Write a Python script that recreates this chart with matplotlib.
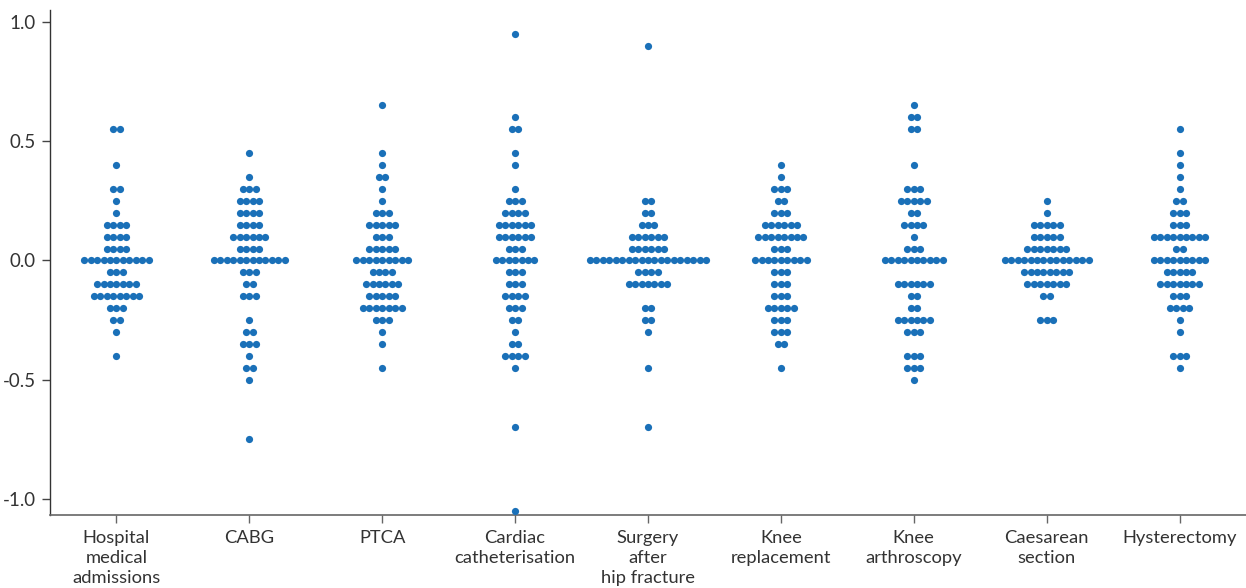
import matplotlib
matplotlib.use("Agg")
import matplotlib.pyplot as plt
from matplotlib.ticker import FuncFormatter, FixedLocator

plt.rcParams["font.family"] = ["Lato", "DejaVu Sans"]
plt.rcParams["axes.unicode_minus"] = False

categories = [
    "Hospital\nmedical\nadmissions",
    "CABG",
    "PTCA",
    "Cardiac\ncatheterisation",
    "Surgery\nafter\nhip fracture",
    "Knee\nreplacement",
    "Knee\narthroscopy",
    "Caesarean\nsection",
    "Hysterectomy",
]

# value -> number of observations at that value
hospital_medical = {0.55: 2, 0.40: 1, 0.30: 2, 0.25: 1, 0.20: 1, 0.15: 4, 0.10: 4,
                    0.05: 4, 0.00: 11, -0.05: 3, -0.10: 7, -0.15: 8, -0.20: 3,
                    -0.25: 2, -0.30: 1, -0.40: 1}
cabg = {0.45: 1, 0.35: 1, 0.30: 3, 0.25: 4, 0.20: 4, 0.15: 4, 0.10: 6, 0.05: 4,
        0.00: 12, -0.05: 3, -0.10: 2, -0.15: 3, -0.25: 1, -0.30: 2, -0.35: 3,
        -0.40: 1, -0.45: 2, -0.50: 1, -0.75: 1}
ptca = {0.65: 1, 0.45: 1, 0.40: 1, 0.35: 2, 0.30: 1, 0.25: 1, 0.20: 3, 0.15: 5,
        0.10: 3, 0.05: 5, 0.00: 9, -0.05: 4, -0.10: 6, -0.15: 5, -0.20: 7,
        -0.25: 3, -0.30: 1, -0.35: 1, -0.45: 1}
cardiac_cath = {0.95: 1, 0.60: 1, 0.55: 2, 0.45: 1, 0.40: 1, 0.30: 1, 0.25: 3,
                0.20: 4, 0.15: 6, 0.10: 6, 0.05: 3, 0.00: 7, -0.05: 3, -0.10: 3,
                -0.15: 4, -0.20: 3, -0.25: 2, -0.30: 1, -0.35: 2, -0.40: 4,
                -0.45: 1, -0.70: 1, -1.05: 1}
hip_fracture = {0.90: 1, 0.25: 2, 0.20: 2, 0.15: 3, 0.10: 6, 0.05: 6, 0.00: 19,
                -0.05: 4, -0.10: 7, -0.20: 2, -0.25: 2, -0.30: 1, -0.45: 1,
                -0.70: 1}
knee_replacement = {0.40: 1, 0.35: 1, 0.30: 3, 0.25: 2, 0.20: 3, 0.15: 6, 0.10: 8,
                    0.05: 3, 0.00: 9, -0.05: 3, -0.10: 3, -0.15: 3, -0.20: 5,
                    -0.25: 3, -0.30: 3, -0.35: 2, -0.45: 1}
knee_arthroscopy = {0.65: 1, 0.60: 2, 0.55: 2, 0.40: 1, 0.30: 3, 0.25: 5, 0.20: 2,
                    0.15: 4, 0.10: 1, 0.05: 3, 0.00: 10, -0.10: 6, -0.15: 2,
                    -0.20: 2, -0.25: 6, -0.30: 3, -0.40: 3, -0.45: 3, -0.50: 1}
caesarean = {0.25: 1, 0.20: 1, 0.15: 5, 0.10: 5, 0.05: 7, 0.00: 14, -0.05: 8,
             -0.10: 7, -0.15: 2, -0.25: 3}
hysterectomy = {0.55: 1, 0.45: 1, 0.40: 1, 0.35: 1, 0.30: 1, 0.25: 2, 0.20: 3,
                0.15: 3, 0.10: 9, 0.05: 2, 0.00: 9, -0.05: 5, -0.10: 7, -0.15: 3,
                -0.20: 4, -0.25: 1, -0.30: 1, -0.40: 3, -0.45: 1}

groups = [hospital_medical, cabg, ptca, cardiac_cath, hip_fracture,
          knee_replacement, knee_arthroscopy, caesarean, hysterectomy]

yticks = [-1.0, -0.5, 0.0, 0.5, 1.0]

W, H, DPI = 1246, 588, 100
fig = plt.figure(figsize=(W / DPI, H / DPI), dpi=DPI)
ax = fig.add_axes([50 / W, 1 - 515 / H, 1196 / W, 505 / H])

dot_step = 0.0485  # horizontal offset between stacked dots (x units)
dot_color = "#1a70b8"

for xi, grp in enumerate(groups):
    xs, ys = [], []
    for val, n in grp.items():
        for k in range(n):
            xs.append(xi + (k - (n - 1) / 2) * dot_step)
            ys.append(val)
    ax.scatter(xs, ys, s=27, color=dot_color, linewidths=0, zorder=3)

ax.set_xlim(-0.5, 8.5)
ax.set_ylim(-1.067, 1.05)

ax.xaxis.set_major_locator(FixedLocator(range(len(categories))))
ax.set_xticklabels(categories, fontsize=13.2, color="#333333", linespacing=1.28)
ax.yaxis.set_major_locator(FixedLocator(yticks))
ax.yaxis.set_major_formatter(FuncFormatter(lambda v, p: f"{v:.1f}"))
ax.tick_params(axis="y", labelsize=13.5, labelcolor="#333333", length=6,
               width=1, color="#444444", pad=4)
ax.tick_params(axis="x", length=6, width=1, color="#666666", pad=5)

for side in ("top", "right"):
    ax.spines[side].set_visible(False)
ax.spines["left"].set_color("#333333")
ax.spines["bottom"].set_color("#666666")
ax.spines["left"].set_linewidth(1.0)
ax.spines["bottom"].set_linewidth(1.2)

fig.savefig("out.png", dpi=DPI)
